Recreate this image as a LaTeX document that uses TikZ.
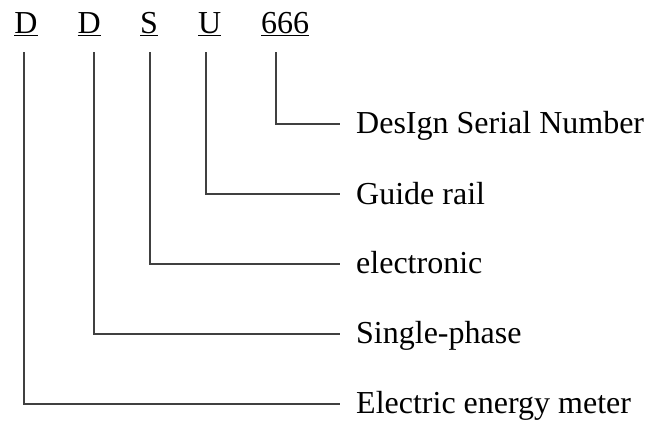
\documentclass[tikz,border=0pt]{standalone}
\usepackage{fontspec}
\setmainfont{Liberation Serif}

\begin{document}
\begin{tikzpicture}[x = 1bp, y = -1bp,
  letter/.style = {anchor = base west, inner sep = 0,
    font = \fontsize{32bp}{38bp}\selectfont},
  meaning/.style = {anchor = west, inner sep = 0, text height = 20bp,
    text depth = 0bp, font = \fontsize{32bp}{38bp}\selectfont},
  leader/.style = {draw = black!75, line width = 2bp, shorten >= 16bp}]
  \useasboundingbox (0, 0) rectangle (648, 425);

  % model code
  \node[letter] (kind) at (14.3, 33.3) {\underline{D}};
  \node[letter] (phase) at (77.3, 33.3) {\underline{D}};
  \node[letter] (tech) at (140, 33.3) {\underline{S}};
  \node[letter] (mount) at (198, 33.3) {\underline{U}};
  \node[letter] (serial) at (261, 33.3) {\underline{666}};

  \coordinate (kindtop) at (24, 52);
  \coordinate (phasetop) at (94, 52);
  \coordinate (techtop) at (150, 52);
  \coordinate (mounttop) at (206, 52);
  \coordinate (serialtop) at (276, 52);

  % meanings
  \node[meaning] (serialtext) at (356, 123.5) {DesIgn Serial Number};
  \node[meaning] (mounttext) at (356, 194) {Guide rail};
  \node[meaning] (techtext) at (356, 263.5) {electronic};
  \node[meaning] (phasetext) at (356, 333.5) {Single-phase};
  \node[meaning] (kindtext) at (356, 403.5) {Electric energy meter};

  \draw[leader] (serialtop) |- (serialtext.west);
  \draw[leader] (mounttop) |- (mounttext.west);
  \draw[leader] (techtop) |- (techtext.west);
  \draw[leader] (phasetop) |- (phasetext.west);
  \draw[leader] (kindtop) |- (kindtext.west);
\end{tikzpicture}
\end{document}
